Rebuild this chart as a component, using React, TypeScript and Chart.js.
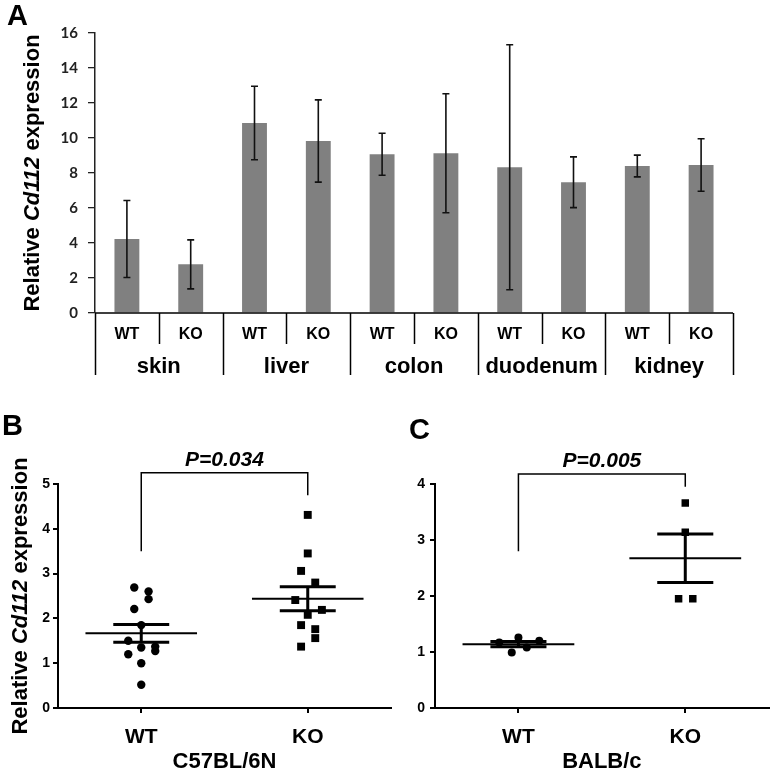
import React, { useEffect, useRef } from 'react';
import { Chart, registerables } from 'chart.js';

Chart.register(...registerables);

const W = 774;
const H = 771;
const FONT = '"Liberation Sans", Arial, Helvetica, sans-serif';

// ---------- Panel A data ----------
const genotypes = ['WT', 'KO', 'WT', 'KO', 'WT', 'KO', 'WT', 'KO', 'WT', 'KO'];
const tissues = ['skin', 'liver', 'colon', 'duodenum', 'kidney'];
const tissueExpr = [4.23, 2.78, 10.86, 9.83, 9.07, 9.13, 8.33, 7.47, 8.4, 8.46];
const tissueErr = [2.2, 1.4, 2.1, 2.35, 1.2, 3.4, 7.0, 1.45, 0.62, 1.5];
const yMaxA = 16;
const yStepA = 2;

// ---------- Panel B data (C57BL/6N) ----------
const groupNames = ['WT', 'KO'];
const groupPos = [1, 2];
const bWtX = [0.958, 1.044, 1.044, 0.958, 1.0, 0.922, 1.0, 1.084, 1.084, 0.922, 1.0, 1.0];
const bWtY = [2.69, 2.6, 2.43, 2.21, 1.85, 1.5, 1.35, 1.37, 1.27, 1.2, 1.0, 0.52];
const bKoX = [2.0, 2.0, 1.96, 2.045, 1.925, 2.085, 2.0, 1.96, 2.045, 2.045, 1.96];
const bKoY = [4.31, 3.45, 3.06, 2.8, 2.41, 2.19, 2.08, 1.85, 1.76, 1.56, 1.37];
const bracketB = { top: 5.25, left: 3.5, right: 4.75 };
const pValueB = 'P=0.034';
const strainB = 'C57BL/6N';
const yMaxB = 5;

// ---------- Panel C data (BALB/c) ----------
const cWtX = [0.885, 1.0, 0.96, 1.05, 1.125];
const cWtY = [1.17, 1.26, 0.99, 1.08, 1.2];
const cKoX = [2.0, 2.0, 1.96, 2.045];
const cKoY = [3.66, 3.14, 1.95, 1.95];
const bracketC = { top: 4.18, left: 2.8, right: 3.95 };
const pValueC = 'P=0.005';
const strainC = 'BALB/c';
const yMaxC = 4;

const yTitleParts = [
  { t: 'Relative ', italic: false },
  { t: 'Cd112', italic: true },
  { t: ' expression', italic: false },
];

const mean = (a: number[]) => a.reduce((s, v) => s + v, 0) / a.length;
const sem = (a: number[]) => {
  const m = mean(a);
  const v = a.reduce((s, x) => s + (x - m) * (x - m), 0) / (a.length - 1);
  return Math.sqrt(v) / Math.sqrt(a.length);
};

function drawYTitle(ctx: CanvasRenderingContext2D, x: number, cy: number) {
  const size = 22;
  const fonts = yTitleParts.map((p) => `${p.italic ? 'italic ' : ''}bold ${size}px ${FONT}`);
  const widths = yTitleParts.map((p, i) => {
    ctx.font = fonts[i];
    return ctx.measureText(p.t).width;
  });
  const total = widths.reduce((s, w) => s + w, 0);
  ctx.save();
  ctx.translate(x, cy);
  ctx.rotate(-Math.PI / 2);
  ctx.fillStyle = '#000';
  ctx.textAlign = 'left';
  ctx.textBaseline = 'alphabetic';
  let px = -total / 2;
  yTitleParts.forEach((p, i) => {
    ctx.font = fonts[i];
    ctx.fillText(p.t, px, 0);
    px += widths[i];
  });
  ctx.restore();
}

function drawLetter(ctx: CanvasRenderingContext2D, letter: string, x: number, y: number) {
  ctx.save();
  ctx.fillStyle = '#000';
  ctx.font = `bold 29px ${FONT}`;
  ctx.textAlign = 'left';
  ctx.textBaseline = 'alphabetic';
  ctx.fillText(letter, x, y);
  ctx.restore();
}

// ---------- Panel A plugin: error bars, category table, titles ----------
const panelAPlugin = {
  id: 'panelA',
  afterDatasetsDraw(chart: any) {
    const { ctx, scales } = chart;
    const y = scales.y;
    const meta = chart.getDatasetMeta(0);
    ctx.save();
    ctx.strokeStyle = '#111';
    ctx.lineWidth = 1.6;
    meta.data.forEach((bar: any, i: number) => {
      const v = tissueExpr[i];
      const e = tissueErr[i];
      const yt = y.getPixelForValue(v + e);
      const yb = y.getPixelForValue(v - e);
      const cx = bar.x;
      ctx.beginPath();
      ctx.moveTo(cx, yt);
      ctx.lineTo(cx, yb);
      ctx.moveTo(cx - 3.5, yt);
      ctx.lineTo(cx + 3.5, yt);
      ctx.moveTo(cx - 3.5, yb);
      ctx.lineTo(cx + 3.5, yb);
      ctx.stroke();
    });
    ctx.restore();
  },
  afterDraw(chart: any) {
    const { ctx, chartArea } = chart;
    const { left, right, bottom } = chartArea;
    const n = genotypes.length;
    const cw = (right - left) / n;
    ctx.save();
    ctx.strokeStyle = '#000';
    ctx.lineWidth = 1.5;
    ctx.beginPath();
    ctx.moveTo(left, bottom);
    ctx.lineTo(right, bottom);
    for (let k = 0; k <= n; k++) {
      const x = Math.round(left + k * cw) + 0.5;
      const len = k % 2 === 0 ? 62 : 31;
      ctx.moveTo(x, bottom);
      ctx.lineTo(x, bottom + len);
    }
    ctx.stroke();
    ctx.fillStyle = '#000';
    ctx.textAlign = 'center';
    ctx.textBaseline = 'alphabetic';
    ctx.font = `bold 16px ${FONT}`;
    genotypes.forEach((g, i) => {
      ctx.fillText(g, left + (i + 0.5) * cw, bottom + 26);
    });
    ctx.font = `bold 22px ${FONT}`;
    tissues.forEach((t, i) => {
      ctx.fillText(t, left + (2 * i + 1) * cw, bottom + 60);
    });
    ctx.restore();
    drawYTitle(ctx, 39, (chartArea.top + chartArea.bottom) / 2);
    drawLetter(ctx, 'A', 7, 25);
  },
};

function makeScatterPlugin(p: {
  wt: number[];
  ko: number[];
  bracket: { top: number; left: number; right: number };
  pValue: string;
  strain: string;
  letter: string;
  letterX: number;
  letterY: number;
  titleX?: number;
}) {
  return {
    id: 'scatterExtras' + p.letter,
    afterDatasetsDraw(chart: any) {
      const { ctx, scales, chartArea } = chart;
      const xs = scales.x;
      const ys = scales.y;
      const X = (v: number) => xs.getPixelForValue(v);
      const Y = (v: number) => ys.getPixelForValue(v);
      ctx.save();
      ctx.strokeStyle = '#000';
      ctx.lineCap = 'butt';
      [p.wt, p.ko].forEach((vals, gi) => {
        const cx = groupPos[gi];
        const m = mean(vals);
        const s = sem(vals);
        ctx.lineWidth = 2;
        ctx.beginPath();
        ctx.moveTo(X(cx - 0.335), Y(m));
        ctx.lineTo(X(cx + 0.335), Y(m));
        ctx.stroke();
        ctx.lineWidth = 3;
        ctx.beginPath();
        ctx.moveTo(X(cx - 0.168), Y(m + s));
        ctx.lineTo(X(cx + 0.168), Y(m + s));
        ctx.moveTo(X(cx - 0.168), Y(m - s));
        ctx.lineTo(X(cx + 0.168), Y(m - s));
        ctx.moveTo(X(cx), Y(m + s));
        ctx.lineTo(X(cx), Y(m - s));
        ctx.stroke();
      });
      // significance bracket
      ctx.lineWidth = 1.5;
      ctx.beginPath();
      ctx.moveTo(X(groupPos[0]), Y(p.bracket.left));
      ctx.lineTo(X(groupPos[0]), Y(p.bracket.top));
      ctx.lineTo(X(groupPos[1]), Y(p.bracket.top));
      ctx.lineTo(X(groupPos[1]), Y(p.bracket.right));
      ctx.stroke();
      ctx.fillStyle = '#000';
      ctx.textAlign = 'center';
      ctx.textBaseline = 'alphabetic';
      ctx.font = `italic bold 21px ${FONT}`;
      ctx.fillText(p.pValue, (X(groupPos[0]) + X(groupPos[1])) / 2, Y(p.bracket.top) - 6.5);
      ctx.font = `bold 22px ${FONT}`;
      ctx.fillText(p.strain, (chartArea.left + chartArea.right) / 2, chartArea.bottom + 60);
      ctx.restore();
      if (p.titleX !== undefined) drawYTitle(ctx, p.titleX, (chartArea.top + chartArea.bottom) / 2);
      drawLetter(ctx, p.letter, p.letterX, p.letterY);
    },
  };
}

function scatterConfig(opts: {
  wtX: number[];
  wtY: number[];
  koX: number[];
  koY: number[];
  yMax: number;
  area: { l: number; t: number; r: number; b: number };
  circleR: number;
  squareR: number;
  tickPad: number;
  plugin: any;
}): any {
  const { area } = opts;
  return {
    type: 'scatter',
    data: {
      datasets: [
        {
          label: 'WT',
          data: opts.wtX.map((x, i) => ({ x, y: opts.wtY[i] })),
          pointStyle: 'circle',
          pointRadius: opts.circleR,
          pointBackgroundColor: '#000',
          pointBorderWidth: 0,
        },
        {
          label: 'KO',
          data: opts.koX.map((x, i) => ({ x, y: opts.koY[i] })),
          pointStyle: 'rect',
          pointRadius: opts.squareR,
          pointBackgroundColor: '#000',
          pointBorderWidth: 0,
        },
      ],
    },
    options: {
      responsive: false,
      animation: false,
      events: [],
      layout: { padding: { left: 0, top: area.t, right: W - area.r, bottom: 0 } },
      plugins: { legend: { display: false }, tooltip: { enabled: false } },
      scales: {
        x: {
          type: 'linear',
          min: 0.5,
          max: 2.5,
          afterBuildTicks: (s: any) => {
            s.ticks = groupPos.map((v) => ({ value: v }));
          },
          afterFit: (s: any) => {
            s.height = H - area.b;
          },
          ticks: {
            callback: (v: number) => groupNames[groupPos.indexOf(v)] ?? '',
            font: { family: FONT, size: 21, weight: 'bold' },
            color: '#000',
            padding: 12,
            maxRotation: 0,
            autoSkip: false,
          },
          grid: { display: true, drawOnChartArea: false, drawTicks: true, tickLength: 5, color: '#000', lineWidth: 2 },
          border: { display: true, color: '#000', width: 2 },
        },
        y: {
          min: 0,
          max: opts.yMax,
          afterFit: (s: any) => {
            s.width = area.l;
          },
          ticks: {
            stepSize: 1,
            font: { family: FONT, size: 14, weight: 'bold' },
            color: '#000',
            padding: opts.tickPad,
          },
          grid: { display: true, drawOnChartArea: false, drawTicks: true, tickLength: 5, color: '#000', lineWidth: 2 },
          border: { display: true, color: '#000', width: 2 },
        },
      },
    },
    plugins: [opts.plugin],
  };
}

export default function App() {
  const refA = useRef<HTMLCanvasElement>(null);
  const refB = useRef<HTMLCanvasElement>(null);
  const refC = useRef<HTMLCanvasElement>(null);

  useEffect(() => {
    const chartA = new Chart(refA.current as HTMLCanvasElement, {
      type: 'bar',
      data: {
        labels: genotypes.map((g, i) => `${tissues[Math.floor(i / 2)]} ${g}`),
        datasets: [
          {
            data: tissueExpr,
            backgroundColor: '#808080',
            borderWidth: 0,
            barPercentage: 0.39,
            categoryPercentage: 1,
          },
        ],
      },
      options: {
        responsive: false,
        animation: false,
        events: [],
        layout: { padding: { left: 0, top: 33, right: W - 733, bottom: H - 313 } },
        plugins: { legend: { display: false }, tooltip: { enabled: false } },
        scales: {
          x: { display: false },
          y: {
            min: 0,
            max: yMaxA,
            afterFit: (s: any) => {
              s.width = 95;
            },
            ticks: {
              stepSize: yStepA,
              font: { family: 'Lato, "Open Sans", sans-serif', size: 15, weight: 'bold' },
              color: '#222',
              padding: 10,
            },
            grid: { display: true, drawOnChartArea: false, drawTicks: true, tickLength: 7, color: '#222', lineWidth: 1.3 },
            border: { display: true, color: '#222', width: 1.5 },
          },
        },
      } as any,
      plugins: [panelAPlugin as any],
    });

    const chartB = new Chart(
      refB.current as HTMLCanvasElement,
      scatterConfig({
        wtX: bWtX,
        wtY: bWtY,
        koX: bKoX,
        koY: bKoY,
        yMax: yMaxB,
        area: { l: 58, t: 484, r: 391, b: 708 },
        circleR: 4.2,
        squareR: 5.6,
        tickPad: 3,
        plugin: makeScatterPlugin({
          wt: bWtY,
          ko: bKoY,
          bracket: bracketB,
          pValue: pValueB,
          strain: strainB,
          letter: 'B',
          letterX: 2,
          letterY: 435,
          titleX: 27,
        }),
      })
    );

    const chartC = new Chart(
      refC.current as HTMLCanvasElement,
      scatterConfig({
        wtX: cWtX,
        wtY: cWtY,
        koX: cKoX,
        koY: cKoY,
        yMax: yMaxC,
        area: { l: 435, t: 484, r: 772, b: 708 },
        circleR: 4,
        squareR: 5.3,
        tickPad: 5,
        plugin: makeScatterPlugin({
          wt: cWtY,
          ko: cKoY,
          bracket: bracketC,
          pValue: pValueC,
          strain: strainC,
          letter: 'C',
          letterX: 409,
          letterY: 439,
        }),
      })
    );

    return () => {
      chartA.destroy();
      chartB.destroy();
      chartC.destroy();
    };
  }, []);

  const cs: React.CSSProperties = { position: 'absolute', left: 0, top: 0, display: 'block' };
  return (
    <div style={{ position: 'absolute', left: 0, top: 0, width: W, height: H, background: '#fff' }}>
      <canvas ref={refA} width={W} height={H} style={cs} />
      <canvas ref={refB} width={W} height={H} style={cs} />
      <canvas ref={refC} width={W} height={H} style={cs} />
    </div>
  );
}
